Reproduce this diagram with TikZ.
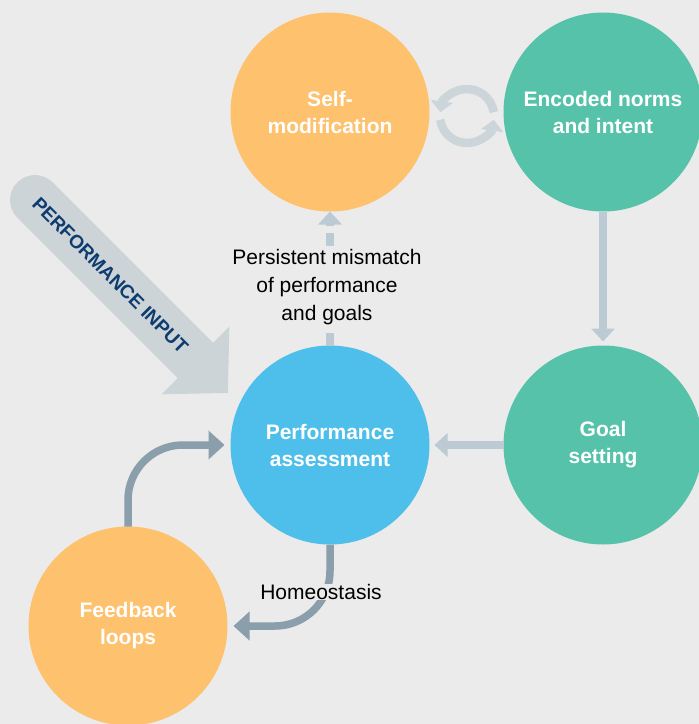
\documentclass[tikz,border=0pt]{standalone}
\usepackage{fontspec}
\setmainfont{Liberation Sans}
\usetikzlibrary{arrows.meta,positioning}
\definecolor{bgcol}{HTML}{EBEBEB}
\definecolor{orangecol}{HTML}{FEC16D}
\definecolor{tealcol}{HTML}{56C2AA}
\definecolor{bluecol}{HTML}{4EBFEA}
\definecolor{litecol}{HTML}{BCCAD3}
\definecolor{cyclecol}{HTML}{CCD5DA}
\definecolor{inputcol}{HTML}{CDD4D8}
\definecolor{darkcol}{HTML}{8A9EAB}
\definecolor{navycol}{HTML}{0E3C6F}
\tikzset{
    every edge/.style={
	draw=litecol,
	line width=8pt,
    },
    phase/.style={
	anchor=center,
	circle,
	minimum size=199pt,
	inner sep=0pt,
	outer sep=0pt,
	align=center,
	text=white,
	font=\fontsize{21}{27}\selectfont\bfseries
    },
    lite/.style={
	-{Triangle[length=13pt,width=23pt]},
    },
    dark/.style={
	draw=darkcol,
	line width=7.5pt,
	rounded corners=55pt,
	-{Triangle[length=16pt,width=28pt]}
    },
    cycle/.style={
	draw=cyclecol,
	line width=8.5pt,
	-{Triangle[length=11pt,width=22pt]}
    },
    inputarrow/.style={
	draw=inputcol,
	line width=50pt,
	line cap=round,
	-{Triangle[length=46pt,width=93pt]}
    },
    lbl/.style={
	text=black,
	align=center,
	fill=bgcol,
	inner sep=1pt,
	font=\fontsize{21}{28}\selectfont
    },
}

\begin{document}
\begin{tikzpicture}[x=1pt,y=-1pt]

    \useasboundingbox[fill=bgcol] (0,0) rectangle (699,724);

    % big input arrow
    \coordinate (inTail) at (35,200);
    \coordinate (inTip) at (228,393);
    \draw[inputarrow] (inTail) -- node[pos=0.39, sloped, text=navycol,
	font=\fontsize{19}{19}\selectfont\bfseries]
	{PERFORMANCE INPUT} (inTip);

    \node[phase, fill=orangecol] (SELF) at (330,112) {Self-\\modification};
    \node[phase, fill=tealcol]   (ENC)  at (603,112) {Encoded norms\\and intent};
    \node[phase, fill=tealcol]   (GOAL) at (603,445) {Goal\\setting};
    \node[phase, fill=bluecol]   (PERF) at (330,445) {Performance\\assessment};
    \node[phase, fill=orangecol] (FB)   at (128,626) {Feedback\\loops};

    % loop between the two top circles
    \coordinate (CYC) at (467,116);
    \draw[cycle] ([shift={(-8:27)}]CYC) arc[start angle=-8, end angle=-172, radius=27];
    \draw[cycle] ([shift={(172:27)}]CYC) arc[start angle=172, end angle=8, radius=27];

    \path (ENC)  edge[lite, shorten >=4pt] (GOAL);
    \path (GOAL) edge[lite, shorten >=5pt] (PERF);
    \path (PERF) edge[lite, dash pattern=on 13pt off 7pt] (SELF);

    \node[lbl] (MISMATCH) at (327,287) {Persistent mismatch\\
	of performance\\and goals};

    \draw[dark, shorten >=6pt] (FB.north) |- (PERF.west);
    \draw[dark, shorten >=6pt] (PERF.south) |- (FB.east);

    \node[lbl, inner sep=0.5pt] (HOMEO) at (321,592) {Homeostasis};
\end{tikzpicture}
\end{document}
